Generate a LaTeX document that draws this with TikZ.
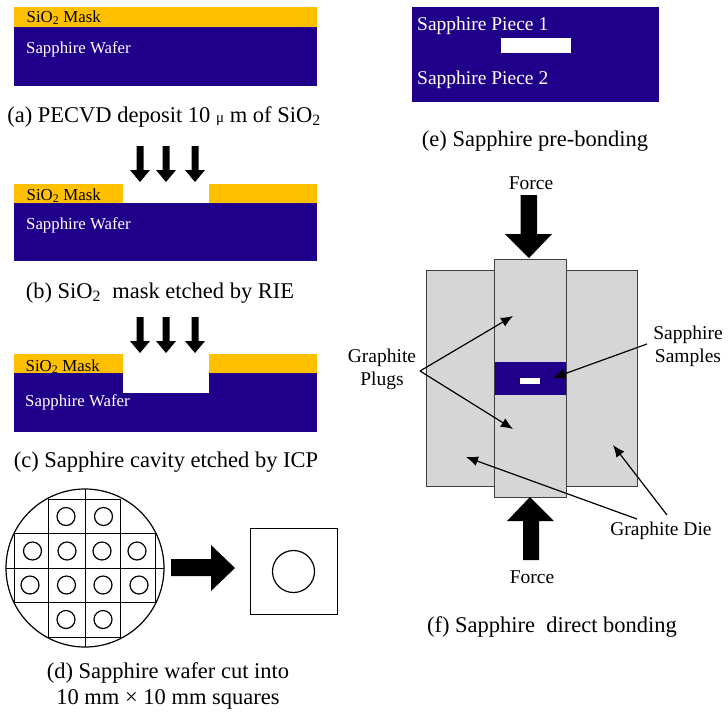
\documentclass[tikz,border=0pt]{standalone}
\usepackage{fontspec}
\setmainfont{Liberation Serif}
\usepackage{tikz}
\usetikzlibrary{arrows.meta}
\definecolor{maskgold}{HTML}{FFC000}
\definecolor{wafernavy}{HTML}{20008A}
\definecolor{graphitegrey}{HTML}{D6D6D6}
\tikzset{
	caption/.style={font=\fontsize{22.5}{26}\selectfont,inner sep=0pt,align=center},
	boxlabel/.style={font=\fontsize{16.8}{20}\selectfont,inner sep=0pt,anchor=west},
	piecelabel/.style={boxlabel,text=white,font=\fontsize{19.5}{23}\selectfont},
	sidelabel/.style={font=\fontsize{19.5}{23}\selectfont,inner sep=0pt,align=center},
	mask/.style={fill=maskgold},
	wafer/.style={fill=wafernavy},
	graphite/.style={fill=graphitegrey,draw=black!75,line width=1pt},
	leader/.style={-{Latex[length=12pt,width=10pt]},line width=1.2pt},
	cutline/.style={line width=1.2pt}
}
\begin{document}
\begin{tikzpicture}[x=1pt,y=-1pt]
	\useasboundingbox (0,0) rectangle (728,716);

	% (a)
	\fill[mask](13.5,7) rectangle (317,27);
	\fill[wafer](13.5,27) rectangle (317,85.5);
	\node[boxlabel] (maskA) at (26.5,17.5) {SiO\textsubscript{2} Mask};
	\node[boxlabel,text=white] (waferA) at (26,49) {Sapphire Wafer};
	\node[caption] (capA) at (164,117) {(a) PECVD deposit 10 {\fontsize{15}{15}\selectfont μ} m of SiO\textsubscript{2}};

	% (b)
	\foreach \x in {140,166,195}
		\fill(\x-3.5,146)--(\x+3.5,146)--(\x+3.5,170)--(\x+10,170)--(\x,182)--(\x-10,170)--(\x-3.5,170)--cycle;
	\fill[mask](13.5,183.5) rectangle (123,203);
	\fill[mask](209,183.5) rectangle (317,203);
	\fill[wafer](13.5,203) rectangle (317,261);
	\node[boxlabel] (maskB) at (26.5,195.5) {SiO\textsubscript{2} Mask};
	\node[boxlabel,text=white] (waferB) at (26,225) {Sapphire Wafer};
	\node[caption] (capB) at (160,293) {(b) SiO\textsubscript{2}\ \ mask etched by RIE};

	% (c)
	\foreach \x in {140,166,195}
		\fill(\x-3.5,317)--(\x+3.5,317)--(\x+3.5,341)--(\x+10,341)--(\x,353)--(\x-10,341)--(\x-3.5,341)--cycle;
	\fill[mask](13.5,354) rectangle (123,373);
	\fill[mask](209,354) rectangle (317,373);
	\fill[wafer](13.5,373) rectangle (317,432);
	\fill[white](123,373) rectangle (209,393);
	\node[boxlabel] (maskC) at (25.5,366.5) {SiO\textsubscript{2} Mask};
	\node[boxlabel,text=white] (waferC) at (25,402) {Sapphire Wafer};
	\node[caption] (capC) at (166,462) {(c) Sapphire cavity etched by ICP};

	% (d)
	\begin{scope}
		\clip(85,568) circle (79);
		\draw[cutline](85.5,480)--(85.5,655);
		\draw[cutline](0,568.5)--(170,568.5);
	\end{scope}
	\draw[cutline](85,568) circle (79);
	\draw[cutline](48.5,499.5) rectangle (120.5,637.5);
	\draw[cutline](14.5,533.5) rectangle (155.5,602.5);
	\foreach \x/\y in {66/516.5,103.5/516.5,32.5/551,67/551,102/551,137/551,30/585,66.5/585,103/585,139/585,66/619.5,103/619.5}
		\draw[cutline](\x,\y) circle (9);
	\fill(171,559)--(211,559)--(211,545)--(235,568)--(211,591)--(211,576)--(171,576)--cycle;
	\draw[cutline](250.5,528.5) rectangle (337.5,614.5);
	\draw[cutline](293.5,571.5) circle (21);
	\node[caption] (capD) at (168,685.5) {(d) Sapphire wafer cut into\\10 mm × 10 mm squares};

	% (e)
	\fill[wafer](412,7) rectangle (659,102);
	\fill[white](501,38) rectangle (571,53);
	\node[piecelabel] (pieceA) at (417,26) {Sapphire Piece 1};
	\node[piecelabel] (pieceB) at (417,80) {Sapphire Piece 2};
	\node[caption] (capE) at (535,141) {(e) Sapphire pre-bonding};

	% (f)
	\draw[graphite](426.5,270.5) rectangle (637.5,486.5);
	\draw[graphite](494.5,259.5) rectangle (566.5,497.5);
	\fill[wafer](495,362) rectangle (566,395);
	\fill[white](520,378) rectangle (540,384);
	\fill(520.5,195)--(537,195)--(537,234)--(552,234)--(529,258)--(505,234)--(520.5,234)--cycle;
	\fill(523,560)--(539,560)--(539,521)--(554,521)--(530,497)--(507,521)--(523,521)--cycle;
	\node[sidelabel] (forceTop) at (531,183) {Force};
	\node[sidelabel] (forceBot) at (532,577) {Force};
	\node[sidelabel] (plugs) at (382,369) {Graphite\\Plugs};
	\node[sidelabel] (samples) at (688,346) {Sapphire\\Samples};
	\node[sidelabel] (die) at (661,531) {Graphite Die};
	\node[caption] (capF) at (552,627) {(f) Sapphire\ \ direct bonding};
	\coordinate (plugApex) at (420,371);
	\coordinate (plugTop) at (513,316);
	\coordinate (plugBot) at (513,429);
	\coordinate (sampleFrom) at (647,344);
	\coordinate (sampleTo) at (553,378);
	\coordinate (dieFromA) at (637,519);
	\coordinate (dieToA) at (466,457);
	\coordinate (dieFromB) at (667,515);
	\coordinate (dieToB) at (613,445);
	\draw[leader](plugApex)--(plugTop);
	\draw[leader](plugApex)--(plugBot);
	\draw[leader](sampleFrom)--(sampleTo);
	\draw[leader](dieFromA)--(dieToA);
	\draw[leader](dieFromB)--(dieToB);
\end{tikzpicture}
\end{document}
